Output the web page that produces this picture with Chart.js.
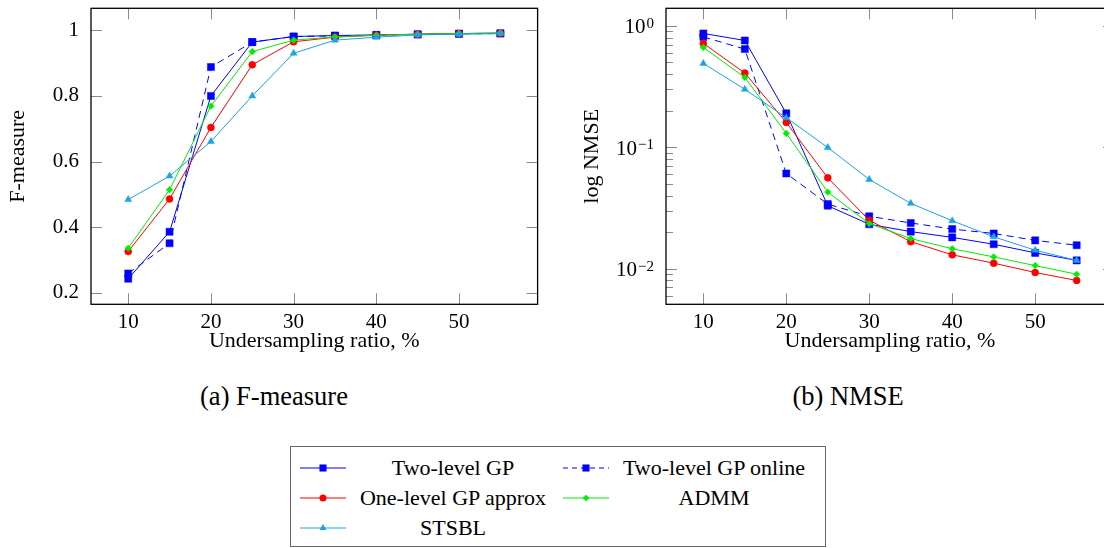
<!DOCTYPE html>
<html lang="en">
<head>
    <meta charset="UTF-8">
    <title>F-measure and NMSE vs undersampling ratio</title>
    <script src="https://cdn.jsdelivr.net/npm/chart.js"></script>
    <style>
        body {
            margin: 0;
            width: 1104px;
            height: 548px;
            overflow: hidden;
            background: #ffffff;
            position: relative;
            font-family: "Liberation Serif", serif;
            color: #000;
        }
        canvas { position: absolute; top: 0; }
        #fChart { left: 0; }
        #nChart { left: 560px; }
        .caption {
            position: absolute;
            top: 381px;
            width: 240px;
            text-align: center;
            font-size: 26.5px;
            line-height: 30px;
        }
        .legend {
            position: absolute;
            left: 290px;
            top: 446px;
            width: 534px;
            height: 99px;
            border: 1.5px solid #666;
        }
        .legend svg { position: absolute; }
        .legend span {
            position: absolute;
            text-align: center;
            font-size: 22px;
            line-height: 26px;
            white-space: nowrap;
        }
    </style>
</head>
<body>
    <canvas id="fChart" width="560" height="360"></canvas>
    <canvas id="nChart" width="560" height="360"></canvas>
    <div class="caption" style="left:154px">(a) F-measure</div>
    <div class="caption" style="left:728px">(b) NMSE</div>
    <div class="legend" id="legend"></div>
    <script>
        // Undersampling ratio (%) on the x axis
        const undersampling = [10, 15, 20, 25, 30, 35, 40, 45, 50, 55];
        const seriesNames = ['Two-level GP', 'Two-level GP online', 'One-level GP approx', 'ADMM', 'STSBL'];

        // F-measure values
        const fTwoLevel       = [0.243, 0.386, 0.800, 0.964, 0.981, 0.984, 0.986, 0.988, 0.990, 0.991];
        const fTwoLevelOnline = [0.259, 0.351, 0.888, 0.964, 0.981, 0.983, 0.985, 0.987, 0.989, 0.990];
        const fOneLevel       = [0.326, 0.486, 0.704, 0.895, 0.965, 0.979, 0.985, 0.988, 0.990, 0.991];
        const fAdmm           = [0.336, 0.514, 0.769, 0.935, 0.970, 0.980, 0.985, 0.988, 0.990, 0.992];
        const fStsbl          = [0.484, 0.556, 0.661, 0.800, 0.930, 0.970, 0.979, 0.986, 0.988, 0.990];

        // NMSE values
        const nTwoLevel       = [0.865, 0.757, 0.190, 0.0330, 0.0232, 0.0202, 0.0181, 0.0159, 0.0135, 0.0117];
        const nTwoLevelOnline = [0.810, 0.643, 0.0608, 0.0340, 0.0270, 0.0238, 0.0212, 0.0195, 0.0171, 0.0156];
        const nOneLevel       = [0.716, 0.408, 0.160, 0.0560, 0.0250, 0.0167, 0.0130, 0.0111, 0.0093, 0.0080];
        const nAdmm           = [0.664, 0.376, 0.130, 0.0427, 0.0235, 0.0177, 0.0146, 0.0125, 0.0106, 0.0090];
        const nStsbl          = [0.490, 0.300, 0.175, 0.0995, 0.0543, 0.0345, 0.0248, 0.0183, 0.0142, 0.0117];

        // tick values and labels
        const xTicks = [10, 20, 30, 40, 50];
        const fTicks = [0.2, 0.4, 0.6, 0.8, 1];
        const nmseMajorTicks = [0.01, 0.1, 1];
        const nmseExponents = ['\u22122', '\u22121', '0'];
        const nmseMantissas = [2, 3, 4, 5, 6, 7, 8, 9];

        // line styles, same order as seriesNames
        const styles = [
            { color: '#0000ff', dash: [], point: 'rect', r: 5 },
            { color: '#0000ff', dash: [7, 5], point: 'rect', r: 5 },
            { color: '#ff0000', dash: [], point: 'circle', r: 3.5 },
            { color: '#00ee00', dash: [], point: 'rectRot', r: 3.3 },
            { color: '#1aa3e8', dash: [], point: 'triangle', r: 4 }
        ];

        Chart.defaults.font.family = "'Liberation Serif', serif";
        Chart.defaults.color = '#000';

        function makeDatasets(list) {
            return list.map((vals, k) => ({
                label: seriesNames[k],
                data: undersampling.map((x, i) => ({ x: x, y: vals[i] })),
                borderColor: styles[k].color,
                backgroundColor: styles[k].color,
                borderWidth: 1,
                borderDash: styles[k].dash,
                pointStyle: styles[k].point,
                pointRadius: styles[k].r,
                pointBorderWidth: 0.5,
                pointBorderColor: styles[k].color,
                pointBackgroundColor: styles[k].color,
                tension: 0,
                order: list.length - k
            }));
        }

        // pgfplots-like frame with inward ticks on all four sides
        const frameTicks = {
            id: 'frameTicks',
            beforeDatasetsDraw(chart) {
                const { ctx, chartArea: a } = chart;
                const xs = chart.scales.x, ys = chart.scales.y;
                ctx.save();
                ctx.strokeStyle = '#8a8a8a';
                ctx.lineWidth = 1;
                ctx.beginPath();
                xs.ticks.forEach(t => {
                    const px = Math.round(xs.getPixelForValue(t.value)) + 0.5;
                    ctx.moveTo(px, a.bottom); ctx.lineTo(px, a.bottom - 11);
                    ctx.moveTo(px, a.top); ctx.lineTo(px, a.top + 11);
                });
                ys.ticks.forEach(t => {
                    const py = Math.round(ys.getPixelForValue(t.value)) + 0.5;
                    const len = t.major === false ? 7 : 11;
                    ctx.moveTo(a.left, py); ctx.lineTo(a.left + len, py);
                    ctx.moveTo(a.right, py); ctx.lineTo(a.right - len, py);
                });
                ctx.stroke();
                ctx.strokeStyle = '#000';
                ctx.lineWidth = 1.3;
                ctx.strokeRect(a.left, a.top, a.right - a.left, a.bottom - a.top);
                ctx.restore();
            }
        };

        // 10^k labels with raised exponents for the log axis
        const powerLabels = {
            id: 'powerLabels',
            afterDraw(chart) {
                const { ctx, chartArea: a } = chart;
                const ys = chart.scales.y;
                ctx.save();
                ctx.fillStyle = '#000';
                ctx.textAlign = 'right';
                nmseMajorTicks.forEach((v, i) => {
                    const py = ys.getPixelForValue(v);
                    const xEnd = a.left - 12;
                    ctx.font = "15px 'Liberation Serif', serif";
                    ctx.textBaseline = 'alphabetic';
                    const supW = ctx.measureText(nmseExponents[i]).width;
                    ctx.fillText(nmseExponents[i], xEnd, py + 2);
                    ctx.font = "21px 'Liberation Serif', serif";
                    ctx.textBaseline = 'middle';
                    ctx.fillText('10', xEnd - supW - 1, py + 2);
                });
                ctx.restore();
            }
        };

        const xScale = {
            type: 'linear',
            bounds: 'data',
            min: 5.5,
            max: 59.5,
            afterBuildTicks: s => { s.ticks = xTicks.map(v => ({ value: v })); },
            afterFit: s => { s.height = 52; s.paddingLeft = 0; s.paddingRight = 0; },
            grid: { display: false, drawTicks: false },
            border: { display: false },
            ticks: { font: { size: 21 }, padding: 6, maxRotation: 0 },
            title: { display: true, text: 'Undersampling ratio, %', font: { size: 22 }, padding: { top: 0, bottom: 2 } }
        };

        new Chart(document.getElementById('fChart'), {
            type: 'line',
            data: { datasets: makeDatasets([fTwoLevel, fTwoLevelOnline, fOneLevel, fAdmm, fStsbl]) },
            options: {
                responsive: false,
                animation: false,
                devicePixelRatio: 1,
                layout: { padding: { left: 0, top: 8.3, right: 22.4, bottom: 3.7 } },
                plugins: { legend: { display: false }, tooltip: { enabled: false } },
                scales: {
                    x: xScale,
                    y: {
                        type: 'linear',
                        bounds: 'data',
                        min: 0.165,
                        max: 1.067,
                        afterBuildTicks: s => { s.ticks = fTicks.map(v => ({ value: v })); },
                        afterFit: s => { s.width = 91; s.paddingTop = 0; s.paddingBottom = 0; },
                        grid: { display: false, drawTicks: false },
                        border: { display: false },
                        ticks: { font: { size: 21 }, padding: 12, callback: v => (v === 1 ? '1' : v.toFixed(1)) },
                        title: { display: true, text: 'F-measure', font: { size: 22 }, padding: { top: 5, bottom: 0 } }
                    }
                }
            },
            plugins: [frameTicks]
        });

        const nmseTicks = [];
        nmseMajorTicks.forEach(d => {
            nmseTicks.push({ value: d, major: true });
            nmseMantissas.forEach(m => {
                const v = m * d / 10;
                if (v > 0.005) nmseTicks.push({ value: v, major: false });
            });
        });

        new Chart(document.getElementById('nChart'), {
            type: 'line',
            data: { datasets: makeDatasets([nTwoLevel, nTwoLevelOnline, nOneLevel, nAdmm, nStsbl]) },
            options: {
                responsive: false,
                animation: false,
                devicePixelRatio: 1,
                layout: { padding: { left: 14, top: 8.3, right: 6, bottom: 3.7 } },
                plugins: { legend: { display: false }, tooltip: { enabled: false } },
                scales: {
                    x: xScale,
                    y: {
                        type: 'logarithmic',
                        min: 0.00509,
                        max: 1.393,
                        afterBuildTicks: s => { s.ticks = nmseTicks.map(t => ({ value: t.value, major: t.major })); },
                        afterFit: s => { s.width = 92; s.paddingTop = 0; s.paddingBottom = 0; },
                        grid: { display: false, drawTicks: false },
                        border: { display: false },
                        ticks: { display: false },
                        title: { display: true, text: 'log NMSE', font: { size: 22 }, padding: { top: 5, bottom: 0 } }
                    }
                }
            },
            plugins: [frameTicks, powerLabels]
        });

        // legend box shared by both plots
        const legend = document.getElementById('legend');
        const svgNS = 'http://www.w3.org/2000/svg';
        seriesNames.forEach((name, k) => {
            const col = k % 2, row = Math.floor(k / 2);
            const cy = 21 + row * 30;
            const st = styles[k];
            const svg = document.createElementNS(svgNS, 'svg');
            svg.setAttribute('width', 46);
            svg.setAttribute('height', 14);
            svg.style.left = (col === 0 ? 9 : 272) + 'px';
            svg.style.top = (cy - 7) + 'px';
            const line = document.createElementNS(svgNS, 'line');
            line.setAttribute('x1', 0); line.setAttribute('x2', 46);
            line.setAttribute('y1', 7); line.setAttribute('y2', 7);
            line.setAttribute('stroke', st.color);
            line.setAttribute('stroke-width', 1);
            if (st.dash.length) line.setAttribute('stroke-dasharray', '5 4');
            svg.appendChild(line);
            let mark;
            if (st.point === 'rect') {
                mark = document.createElementNS(svgNS, 'rect');
                const s = st.r * Math.SQRT2;
                mark.setAttribute('x', 23 - s / 2); mark.setAttribute('y', 7 - s / 2);
                mark.setAttribute('width', s); mark.setAttribute('height', s);
            } else if (st.point === 'circle') {
                mark = document.createElementNS(svgNS, 'circle');
                mark.setAttribute('cx', 23); mark.setAttribute('cy', 7); mark.setAttribute('r', st.r);
            } else if (st.point === 'rectRot') {
                mark = document.createElementNS(svgNS, 'polygon');
                const r = st.r;
                mark.setAttribute('points', `23,${7 - r} ${23 + r},7 23,${7 + r} ${23 - r},7`);
            } else {
                mark = document.createElementNS(svgNS, 'polygon');
                const r = st.r;
                mark.setAttribute('points', `23,${7 - r} ${23 + r * 0.87},${7 + r / 2} ${23 - r * 0.87},${7 + r / 2}`);
            }
            mark.setAttribute('fill', st.color);
            svg.appendChild(mark);
            legend.appendChild(svg);

            const span = document.createElement('span');
            span.textContent = name;
            span.style.left = (col === 0 ? 58 : 322) + 'px';
            span.style.width = (col === 0 ? 208 : 202) + 'px';
            span.style.top = (cy - 13) + 'px';
            legend.appendChild(span);
        });
    </script>
</body>
</html>
